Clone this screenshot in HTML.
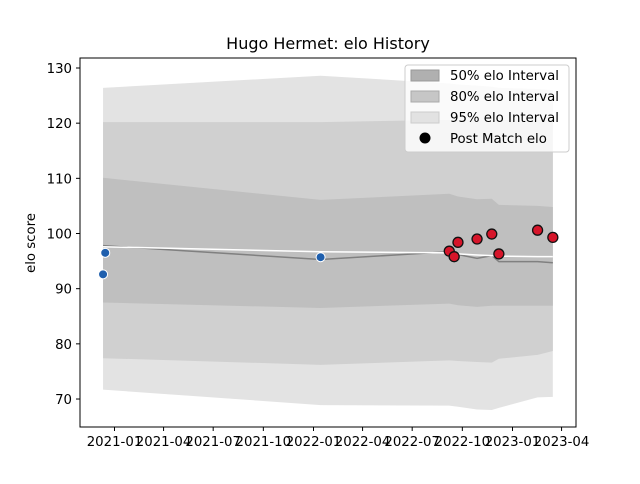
<!DOCTYPE html>
<html><head><meta charset="utf-8"><style>
body{margin:0;background:#fff;font-family:"DejaVu Sans","Liberation Sans",sans-serif}
</style></head><body>
<svg id="c" width="640" height="480" viewBox="0 0 640 480" font-family="DejaVu Sans, Liberation Sans, sans-serif">
<rect width="640" height="480" fill="#fff"/>
<text x="328" y="49" font-size="16" text-anchor="middle">Hugo Hermet: elo History</text>
<g id="plot"></g>
<rect x="80" y="58" width="496" height="369" fill="none" stroke="#000" stroke-width="1"/>
<g id="axes" font-size="13.3"></g>
<text transform="translate(35,243) rotate(-90)" font-size="13.3" text-anchor="middle">elo score</text>
<g>
<rect x="405" y="65" width="164" height="87" rx="3" fill="#fff" fill-opacity="0.8" stroke="#ccc"/>
<rect x="411" y="70" width="28" height="11" fill="#b0b0b0" stroke="#999"/>
<text x="450" y="80" font-size="13.3">50% elo Interval</text>
<rect x="411" y="91" width="28" height="11" fill="#c6c6c6" stroke="#aaa"/>
<text x="450" y="101" font-size="13.3">80% elo Interval</text>
<rect x="411" y="112" width="28" height="11" fill="#e2e2e2" stroke="#ccc"/>
<text x="450" y="122" font-size="13.3">95% elo Interval</text>
<circle cx="425" cy="138" r="5.5" fill="#000"/>
<text x="450" y="143" font-size="13.3">Post Match elo</text>
</g>
</svg>
<script>
const bandDates=["2020-12-11","2022-01-14","2022-09-07","2022-09-23","2022-10-28","2022-11-24","2022-12-07","2023-02-16","2023-03-16"];
const meanElo=[97.8,95.3,96.7,96.2,95.5,96.0,94.9,94.9,94.7];
const smoothElo=[97.6,96.7,96.5,96.3,96.1,96.0,95.9,95.8,95.8];
const up50=[110.1,106.1,107.2,106.7,106.2,106.3,105.2,105.0,104.8];
const lo50=[87.5,86.5,87.3,87.0,86.7,86.9,86.9,86.9,86.9];
const up80=[120.2,120.2,120.6,120.6,120.6,120.6,120.6,120.6,120.6];
const lo80=[77.4,76.2,77.0,76.9,76.7,76.6,77.3,78.0,78.7];
const up95=[126.4,128.6,127.2,127.0,126.8,126.6,126.4,126.2,126.0];
const lo95=[71.7,68.9,68.8,68.6,68.1,68.0,68.4,70.3,70.4];
const matchDates=["2020-12-11","2020-12-15","2022-01-14","2022-09-07","2022-09-16","2022-09-23","2022-10-28","2022-11-24","2022-12-07","2023-02-16","2023-03-16"];
const matchElo=[92.6,96.5,95.7,96.8,95.8,98.4,99.0,99.9,96.3,100.6,99.3];
const matchGroup=[0,0,0,1,1,1,1,1,1,1,1];
const yTicks=[70,80,90,100,110,120,130];
const xTickLabels=["2021-01","2021-04","2021-07","2021-10","2022-01","2022-04","2022-07","2022-10","2023-01","2023-04"];

const NS="http://www.w3.org/2000/svg";
const t0=Date.parse("2021-01-01");
const X=d=>114.5+(Date.parse(d.length===7?d+"-01":d)-t0)/86400000*0.5452;
const Y=v=>68+(130-v)*5.517;
function mk(tag,attrs,parent){const e=document.createElementNS(NS,tag);for(const k in attrs)e.setAttribute(k,attrs[k]);parent.appendChild(e);return e;}
const plot=document.getElementById('plot'),axes=document.getElementById('axes');
function band(up,lo,fill,name){
  let p=bandDates.map((d,i)=>X(d)+","+Y(up[i]));
  for(let i=bandDates.length-1;i>=0;i--)p.push(X(bandDates[i])+","+Y(lo[i]));
  const e=mk('polygon',{points:p.join(' '),fill:fill},plot);
  
  
}
band(up95,lo95,"#e3e3e3","band-95");
band(up80,lo80,"#d0d0d0","band-80");
band(up50,lo50,"#bfbfbf","band-50");
const ml=mk('polyline',{points:bandDates.map((d,i)=>X(d)+","+Y(meanElo[i])).join(' '),fill:"none",stroke:"#808080","stroke-width":1.5},plot);


const sl=mk('polyline',{points:bandDates.map((d,i)=>X(d)+","+Y(smoothElo[i])).join(' '),fill:"none",stroke:"#fff","stroke-width":1.5},plot);


matchDates.forEach((d,i)=>{
  const blue=matchGroup[i]===0;
  const c=mk('circle',{cx:X(d),cy:Y(matchElo[i]),r:blue?4.5:5,fill:blue?"#1f5fad":"#d6152a",stroke:blue?"#fff":"#111","stroke-width":blue?1:1.3},plot);
  
  
});
yTicks.forEach(v=>{
  const l=mk('line',{x1:76,x2:80,y1:Y(v),y2:Y(v),stroke:"#000"},axes);
  
  
  const t=mk('text',{x:72,y:Y(v)+5,"text-anchor":"end"},axes);t.textContent=v;
  
  
});
xTickLabels.forEach(s=>{
  const x=X(s);
  const l=mk('line',{x1:x,x2:x,y1:427,y2:431,stroke:"#000"},axes);
  
  
  const t=mk('text',{x:x,y:446,"text-anchor":"middle"},axes);t.textContent=s;
  
  
});
</script>
</body></html>
